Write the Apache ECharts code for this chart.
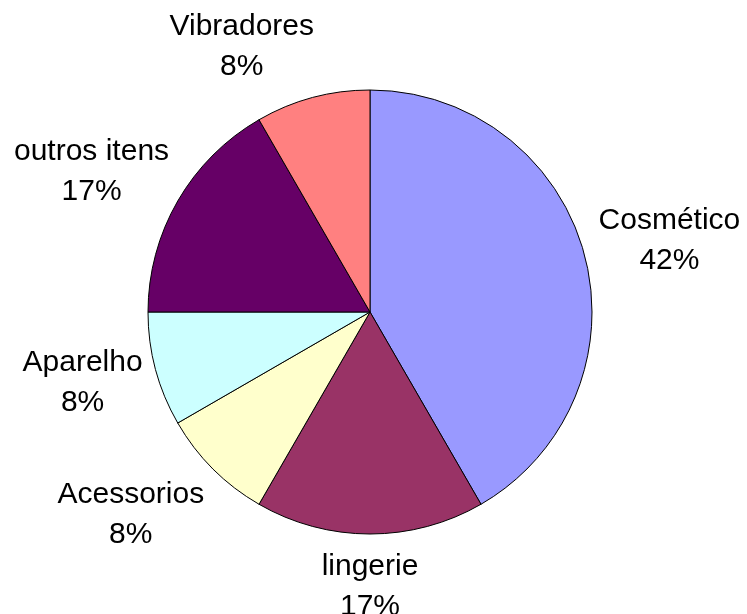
<!DOCTYPE html>
<html>
<head>
<meta charset="utf-8">
<script src="https://cdn.jsdelivr.net/npm/echarts@6/dist/echarts.min.js"></script>
<style>
  html, body { margin: 0; padding: 0; background: #fff; }
  #chart { width: 747px; height: 614px; }
</style>
</head>
<body>
<div id="chart"></div>
<script>
const categories = ['Cosmético', 'lingerie', 'Acessorios', 'Aparelho', 'outros itens', 'Vibradores'];
const counts = [5, 2, 1, 1, 2, 1];
const colors = ['#9999FF', '#993366', '#FFFFCC', '#CCFFFF', '#660066', '#FF8080'];

const cx = 370, cy = 312, radius = 222;
const total = counts.reduce((a, b) => a + b, 0);

// small nudges so labels sit where the original put them
const nudge = { 'Vibradores': [-48, 0], 'Acessorios': [-20, 8], 'Aparelho': [12, 0], 'outros itens': [-10, -3] };

const chart = echarts.init(document.getElementById('chart'));

chart.setOption({
  animation: false,
  series: [{
    type: 'pie',
    center: [cx, cy],
    radius: radius,
    startAngle: 90,
    clockwise: true,
    silent: true,
    data: categories.map((name, i) => ({
      name: name,
      value: counts[i],
      itemStyle: { color: colors[i] }
    })),
    itemStyle: { borderColor: '#000', borderWidth: 1 },
    label: {
      show: true,
      position: 'outside',
      alignTo: 'none',
      overflow: 'none',
      formatter: p => p.name + '\n' + Math.round(p.percent) + '%',
      fontFamily: 'Liberation Sans, Arial, sans-serif',
      fontSize: 30,
      lineHeight: 40,
      color: '#000'
    },
    labelLine: { show: false },
    labelLayout: params => {
      const i = params.dataIndex;
      let before = 0;
      for (let k = 0; k < i; k++) before += counts[k];
      const theta = (before + counts[i] / 2) / total * 2 * Math.PI;
      const n = nudge[categories[i]] || [0, 0];
      return {
        x: cx + 310 * Math.sin(theta) + n[0],
        y: cy - 275 * Math.cos(theta) + n[1],
        align: 'center',
        verticalAlign: 'middle'
      };
    }
  }]
});
</script>
</body>
</html>
